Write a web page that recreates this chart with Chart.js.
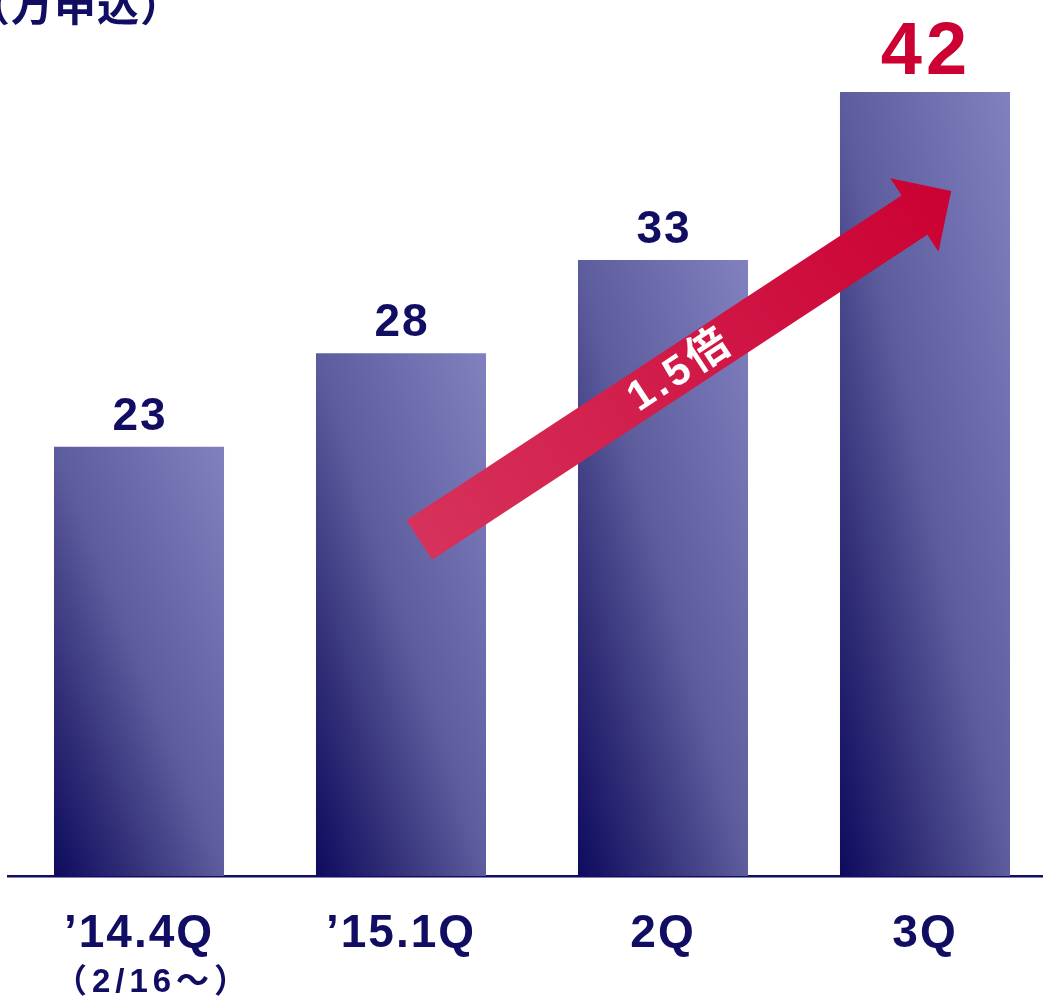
<!DOCTYPE html>
<html>
<head>
<meta charset="utf-8">
<script src="https://cdn.jsdelivr.net/npm/chart.js@4"></script>
<style>
  html, body { margin: 0; padding: 0; background: #fff; overflow: hidden; }
  #wrap { width: 1056px; height: 996px; }
</style>
</head>
<body>
<div id="wrap"><canvas id="applyChart" width="1056" height="996"></canvas></div>
<script>
// applications per quarter (unit: 万申込)
const quarters = ['\u201914.4Q', '\u201915.1Q', '2Q', '3Q'];
const quarterNotes = ['\uff082/16\uff5e\uff09', '', '', ''];
const applications = [23, 28, 33, 42];
const unitLabel = '\uff08万申込\uff09';

// growth arrow, in axis units: [category position, value]
const arrowFrom = [1.07, 18];
const arrowTo = [3.1, 36.7];
const arrowText = '1.5倍';

const NAVY = '#100d62';
const RED = '#cc0033';
const FONT = '"Liberation Sans", Arial, "Noto Sans CJK JP", sans-serif';
const BAR_PCT = 0.649;

// diagonal fill stretched over each bar: dark bottom-left to light top-right
function barFill(context) {
  const chart = context.chart;
  const xs = chart.scales.x, ys = chart.scales.y;
  if (!xs || !ys || context.dataIndex === undefined) return '#5e5e9e';
  const cx = xs.getPixelForValue(context.dataIndex);
  const w = xs.getPixelForValue(1) - xs.getPixelForValue(0);
  const bw = w * BAR_PCT;
  const top = ys.getPixelForValue(applications[context.dataIndex]);
  const base = ys.getPixelForValue(0);
  const h = base - top;
  if (![cx, bw, h].every(Number.isFinite) || bw <= 0 || h <= 0) return '#5e5e9e';
  const x0 = cx - bw / 2, y0 = base;
  const k = (2 * bw * h) / (bw * bw + h * h);
  const g = chart.ctx.createLinearGradient(x0, y0, x0 + h * k, y0 - bw * k);
  g.addColorStop(0, '#0e0a5e');
  g.addColorStop(0.25, '#35327a');
  g.addColorStop(0.5, '#5d5c9d');
  g.addColorStop(1, '#8181c0');
  return g;
}

const labelsPlugin = {
  id: 'labels',
  afterDatasetsDraw(chart) {
    const ctx = chart.ctx;
    const xs = chart.scales.x, ys = chart.scales.y;

    // growth arrow
    const ax = xs.getPixelForValue(arrowFrom[0]), ay = ys.getPixelForValue(arrowFrom[1]);
    const bx = xs.getPixelForValue(arrowTo[0]), by = ys.getPixelForValue(arrowTo[1]);
    const len = Math.hypot(bx - ax, by - ay);
    const ang = Math.atan2(by - ay, bx - ax);
    const shaft = 23.5, headW = 44, headL = 44;
    ctx.save();
    ctx.translate(ax, ay);
    ctx.rotate(ang);
    const g = ctx.createLinearGradient(0, 0, len, 0);
    g.addColorStop(0, '#d6325b');
    g.addColorStop(1, '#cb0133');
    ctx.fillStyle = g;
    ctx.beginPath();
    ctx.moveTo(0, -shaft);
    ctx.lineTo(len - headL, -shaft);
    ctx.lineTo(len - headL, -headW);
    ctx.lineTo(len, 0);
    ctx.lineTo(len - headL, headW);
    ctx.lineTo(len - headL, shaft);
    ctx.lineTo(0, shaft);
    ctx.closePath();
    ctx.fill();
    ctx.fillStyle = '#fff';
    ctx.font = 'bold 42px ' + FONT;
    ctx.letterSpacing = '4px';
    ctx.textAlign = 'center';
    ctx.textBaseline = 'middle';
    ctx.fillText(arrowText, len * 0.49, 2);
    ctx.restore();

    // values above bars
    const meta = chart.getDatasetMeta(0);
    ctx.save();
    ctx.textAlign = 'center';
    ctx.textBaseline = 'alphabetic';
    meta.data.forEach((bar, i) => {
      const last = i === applications.length - 1;
      ctx.font = (last ? 'bold 74px ' : 'bold 46px ') + FONT;
      ctx.fillStyle = last ? RED : NAVY;
      ctx.letterSpacing = last ? '4px' : '2px';
      ctx.fillText(String(applications[i]), bar.x + 1, bar.y - (last ? 18 : 17));
    });

    // category labels under the axis
    const base = ys.getPixelForValue(0);
    ctx.fillStyle = NAVY;
    quarters.forEach((q, i) => {
      const x = xs.getPixelForValue(i);
      ctx.font = 'bold 46px ' + FONT;
      ctx.letterSpacing = '2px';
      ctx.fillText(q, x, base + 71);
      if (quarterNotes[i]) {
        ctx.font = 'bold 33px ' + FONT;
        ctx.letterSpacing = '5px';
        ctx.fillText(quarterNotes[i], x + 14, base + 116);
      }
    });

    // unit caption, top left
    ctx.textAlign = 'left';
    ctx.font = 'bold 42px "Noto Sans CJK JP", sans-serif';
    ctx.letterSpacing = '1px';
    ctx.fillText(unitLabel, -32, 21);
    ctx.restore();
  }
};

new Chart(document.getElementById('applyChart'), {
  type: 'bar',
  data: {
    labels: quarters,
    datasets: [{
      data: applications,
      backgroundColor: barFill,
      borderWidth: 0
    }]
  },
  options: {
    responsive: false,
    animation: false,
    devicePixelRatio: 1,
    datasets: { bar: { barPercentage: BAR_PCT, categoryPercentage: 1 } },
    layout: { padding: { top: 36, bottom: 120, left: 8, right: 0 } },
    plugins: { legend: { display: false }, tooltip: { enabled: false } },
    scales: {
      x: {
        grid: { display: false, drawTicks: false },
        border: { display: true, color: NAVY, width: 2.5 },
        ticks: { display: false }
      },
      y: { display: false, min: 0, max: 45 }
    }
  },
  plugins: [labelsPlugin]
});
</script>
</body>
</html>
